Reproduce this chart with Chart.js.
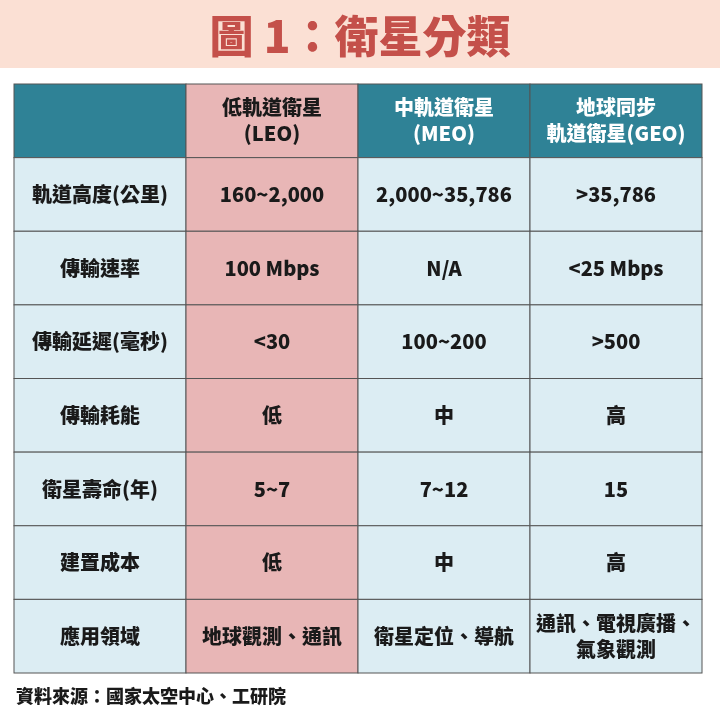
<!DOCTYPE html>
<html><head><meta charset="utf-8">
<script src="https://cdn.jsdelivr.net/npm/chart.js@4/dist/chart.umd.min.js"></script>
<style>body{margin:0;background:#fff}</style></head>
<body><canvas id="c" width="720" height="720"></canvas>
<script>
// table content
const columns = ['', '低軌道衛星\n(LEO)', '中軌道衛星\n(MEO)', '地球同步\n軌道衛星(GEO)'];
const rowLabels = ['軌道高度(公里)', '傳輸速率', '傳輸延遲(毫秒)', '傳輸耗能', '衛星壽命(年)', '建置成本', '應用領域'];
const leo = ['160~2,000', '100 Mbps', '<30', '低', '5~7', '低', '地球觀測、通訊'];
const meo = ['2,000~35,786', 'N/A', '100~200', '中', '7~12', '中', '衛星定位、導航'];
const geo = ['>35,786', '<25 Mbps', '>500', '高', '15', '高', '通訊、電視廣播、\n氣象觀測'];
const titleText = '圖 1：衛星分類';
const sourceText = '資料來源：國家太空中心、工研院';

const FONT = '"Noto Sans CJK TC", "Noto Sans", sans-serif';
const rows = ['header'].concat(rowLabels);
const body = [columns].concat(rowLabels.map((r, i) => [r, leo[i], meo[i], geo[i]]));

const tablePlugin = {
    id: 'table',
    beforeDraw(chart) {
        const ctx = chart.ctx;
        ctx.save();
        ctx.fillStyle = '#fbe0d4';
        ctx.fillRect(0, 0, chart.width, 68);
        ctx.fillStyle = '#c4504a';
        ctx.font = '900 44px ' + FONT;
        ctx.textAlign = 'center';
        ctx.textBaseline = 'middle';
        ctx.fillText(titleText, chart.width / 2, 36);
        ctx.restore();
    },
    afterDraw(chart) {
        const ctx = chart.ctx;
        const x = chart.scales.x, y = chart.scales.y;
        const hw = (x.getPixelForValue(1) - x.getPixelForValue(0)) / 2;
        const hh = (y.getPixelForValue(1) - y.getPixelForValue(0)) / 2;
        ctx.save();
        rows.forEach((r, ri) => {
            columns.forEach((c, ci) => {
                const cx = x.getPixelForValue(ci), cy = y.getPixelForValue(ri);
                let fill = '#dcedf3', color = '#1a1a1a';
                if (ri === 0) { fill = '#2f8296'; color = '#ffffff'; }
                else if (ci === 1) fill = '#e8b6b6';
                if (ri === 0 && ci === 1) { fill = '#e8b6b6'; color = '#1a1a1a'; }
                ctx.fillStyle = fill;
                ctx.fillRect(cx - hw, cy - hh, hw * 2, hh * 2);
                ctx.strokeStyle = '#555';
                ctx.lineWidth = 1;
                ctx.strokeRect(cx - hw, cy - hh, hw * 2, hh * 2);
                const lines = body[ri][ci].split('\n');
                ctx.fillStyle = color;
                ctx.font = '900 20px ' + FONT;
                ctx.textAlign = 'center';
                ctx.textBaseline = 'middle';
                lines.forEach((t, li) => {
                    ctx.fillText(t, cx, cy + (li - (lines.length - 1) / 2) * 26);
                });
            });
        });
        ctx.fillStyle = '#1a1a1a';
        ctx.font = '900 18px ' + FONT;
        ctx.textAlign = 'left';
        ctx.textBaseline = 'middle';
        ctx.fillText(sourceText, 16, 696);
        ctx.restore();
    }
};

new Chart(document.getElementById('c'), {
    type: 'bar',
    data: { labels: columns, datasets: [] },
    options: {
        responsive: false,
        animation: false,
        layout: { padding: { left: 14, right: 18, top: 84, bottom: 47 } },
        plugins: { legend: { display: false }, tooltip: { enabled: false } },
        scales: {
            x: { type: 'category', labels: columns, offset: true, display: false },
            y: { type: 'category', labels: rows, offset: true, display: false }
        }
    },
    plugins: [tablePlugin]
});
</script></body></html>
